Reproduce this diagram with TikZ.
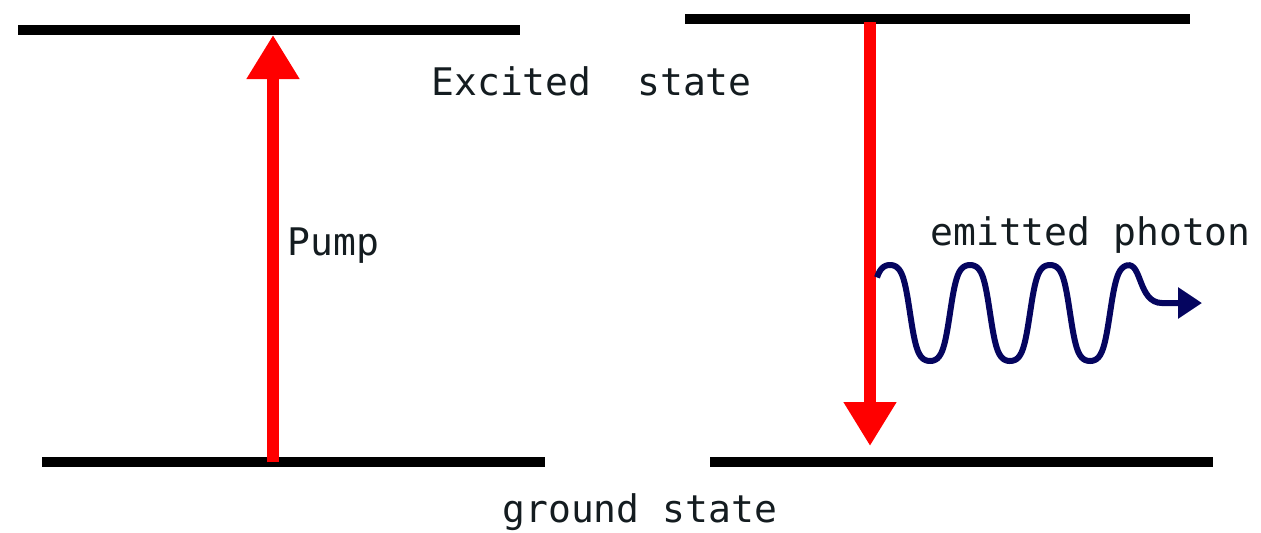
\documentclass[tikz,border=0pt]{standalone}
\usepackage{fontspec}
\setmonofont{DejaVu Sans Mono}
\usetikzlibrary{arrows.meta}
\definecolor{wavecol}{RGB}{5,5,95}
\definecolor{txtcol}{RGB}{20,28,32}
\tikzset{
  level/.style={line width=5pt,black},
  trans/.style={line width=6pt,red,-{Triangle[width=25pt,length=22pt]}},
  lbl/.style={inner sep=0pt,anchor=base west,font=\ttfamily\fontsize{19}{22}\selectfont,text=txtcol},
  photon/.style={line width=3pt,wavecol,-{Triangle[width=15pt,length=12pt]}}
}
\begin{document}
\begin{tikzpicture}[x=0.5pt,y=-0.5pt]
\useasboundingbox (0,0) rectangle (1261,532);
% levels
\coordinate (tl1) at (18,30);  \coordinate (tl2) at (520,30);
\coordinate (tr1) at (685,19); \coordinate (tr2) at (1190,19);
\coordinate (bl1) at (42,462); \coordinate (bl2) at (545,462);
\coordinate (br1) at (710,462);\coordinate (br2) at (1213,462);
\draw[level] (tl1) -- (tl2);
\draw[level] (tr1) -- (tr2);
\draw[level] (bl1) -- (bl2);
\draw[level] (br1) -- (br2);
% transitions
\coordinate (pumpS) at (273,462);
\coordinate (pumpE) at (273,35);
\draw[trans] (pumpS) -- (pumpE);
\coordinate (emS) at (870,22);
\coordinate (emE) at (870,446);
\draw[trans] (emS) -- (emE);
% photon
\coordinate (phE) at (1202,303);
\draw[photon] plot[domain=877:1127,samples=150,smooth] (\x,{313-48*tanh(1.6*cos(4.5*(\x-890)))/tanh(1.6)})
  .. controls (1142,262) and (1138,303) .. (1162,303) -- (phE);
% labels
\node[lbl] (pump) at (287,255) {Pump};
\node[lbl] (exc) at (431,95) {Excited\ \ state};
\node[lbl] (emit) at (930,245) {emitted photon};
\node[lbl] (gnd) at (502,522) {ground state};
\end{tikzpicture}
\end{document}
